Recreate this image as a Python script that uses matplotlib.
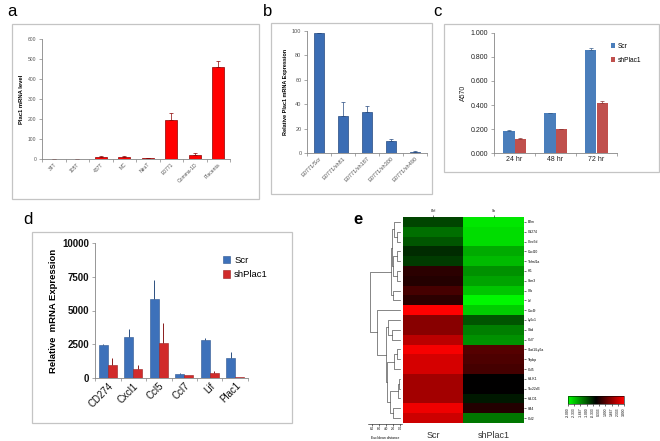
import numpy as np
import matplotlib
matplotlib.use('Agg')
import matplotlib.pyplot as plt
from matplotlib.patches import Rectangle
from matplotlib.colors import LinearSegmentedColormap

plt.rcParams['font.family'] = ['Liberation Sans', 'DejaVu Sans']

# ---- data ----
# panel a
a_cats = ['34T', '105T', '437T', 'MC', 'NeuT', 'E0771', 'Comma-1D', 'Placenta']
a_vals = [0, 1, 12, 12, 5, 195, 18, 462]
a_err = [0, 1, 5, 2, 2, 33, 14, 28]

# panel b
b_cats = ['E0771/Scr', 'E0771/sh81', 'E0771/sh187', 'E0771/sh300', 'E0771/sh490']
b_vals = [98, 30.5, 33.5, 10, 1]
b_err = [0.5, 11.5, 5, 1.5, 0.3]

# panel c
c_cats = ['24 hr', '48 hr', '72 hr']
c_scr = [0.185, 0.330, 0.862]
c_sh = [0.118, 0.200, 0.415]
c_scr_err = [0.005, 0.002, 0.010]
c_sh_err = [0.010, 0.003, 0.020]

# panel d
d_cats = ['CD274', 'Cxcl1', 'Ccl5', 'Ccl7', 'Lif', 'Plac1']
d_scr = [2450, 3050, 5850, 300, 2850, 1500]
d_sh = [1000, 700, 2600, 200, 350, 60]
d_scr_err = [100, 550, 1400, 100, 100, 400]
d_sh_err = [500, 250, 1500, 50, 200, 10]

# panel e
e_genes = ['B2m', 'Cd274', 'Clec5d', 'Cxcl10', 'Tnfrsf1a', 'Irf1', 'Ifitm3', 'Cfb', 'Lif',
           'Cxcl9', 'Ly6c1', 'Ubd', 'Ccl7', 'Stat1/Ly6a', 'Tapbp', 'Ccl5', 'H2-K1',
           'Tsc22d3', 'H2-D1', 'Ifi44', 'Ccl2']
e_scr = [-0.8, -1.3, -1.0, -0.5, -0.7, 0.5, 0.4, 0.8, 0.5, 3.0, 1.6, 1.6, 2.2,
         2.9, 2.5, 2.5, 1.9, 1.9, 1.9, 2.8, 2.4]
e_sh = [-2.7, -2.6, -2.6, -2.0, -2.2, -1.7, -1.9, -2.3, -2.9, -2.4, -1.0, -1.5, -1.7,
        1.0, 0.9, 0.8, 0.0, 0.0, -0.3, 0.4, -1.4]
# dendrogram merges: (left, right, height); leaves 0..20, new nodes from 21
e_merges = [
    (1, 2, 0.9),      # 21
    (0, 21, 1.7),     # 22
    (3, 4, 0.9),      # 23
    (5, 6, 1.0),      # 24
    (23, 24, 1.9),    # 25
    (22, 25, 2.3),    # 26
    (7, 8, 2.1),      # 27
    (26, 27, 2.6),    # 28
    (11, 12, 2.3),    # 29
    (10, 29, 3.4),    # 30
    (13, 14, 0.9),    # 31
    (31, 15, 1.7),    # 32
    (16, 17, 0.4),    # 33
    (33, 18, 0.7),    # 34
    (19, 20, 2.0),    # 35
    (34, 35, 2.9),    # 36
    (32, 36, 3.6),    # 37
    (30, 37, 3.9),    # 38
    (9, 38, 6.6),     # 39
    (28, 39, 8.7),    # 40
]
cbar_ticks = [-3.0, -2.333, -1.667, -1.0, -0.333, 0.333, 1.0, 1.667, 2.333, 3.0]

W, H = 660, 441
fig = plt.figure(figsize=(W / 100, H / 100), dpi=100)


def px_axes(x0, y0, x1, y1):
    return fig.add_axes([x0 / W, 1 - y1 / H, (x1 - x0) / W, (y1 - y0) / H])


def frame(x0, y0, x1, y1):
    fig.add_artist(Rectangle((x0 / W, 1 - y1 / H), (x1 - x0) / W, (y1 - y0) / H,
                             transform=fig.transFigure, fill=False,
                             edgecolor='#c4c4c4', lw=0.9))


def excel_axes(ax, cats, size, color='#555555', rot=45, weight='normal'):
    n = len(cats)
    for s in ['top', 'right']:
        ax.spines[s].set_visible(False)
    for s in ['left', 'bottom']:
        ax.spines[s].set_color('#868686')
        ax.spines[s].set_linewidth(0.6)
    ax.set_xlim(-0.5, n - 0.5)
    ax.set_xticks(np.arange(n + 1) - 0.5)
    ax.set_xticklabels([])
    ax.set_xticks(np.arange(n), minor=True)
    ha = 'right' if rot else 'center'
    ax.set_xticklabels(cats, minor=True, rotation=rot, ha=ha, rotation_mode='anchor' if rot else 'default',
                       fontsize=size, color=color, weight=weight)
    ax.tick_params(axis='x', which='minor', length=0, pad=2)
    ax.tick_params(axis='x', which='major', length=2, width=0.5, color='#868686')
    ax.tick_params(axis='y', length=2, width=0.5, color='#868686', labelsize=size,
                   labelcolor=color, pad=2)
    for t in ax.get_yticklabels():
        t.set_weight(weight)


# ---- panel a ----
frame(12, 24, 259, 199)
fig.text(7 / W, 1 - 12 / H, 'a', fontsize=12, va='center', ha='left')
ax = px_axes(42, 39, 230, 159)
x = np.arange(len(a_cats))
ax.bar(x, a_vals, width=0.52, color='#ff0000', edgecolor='#8b0000', linewidth=0.5)
ax.errorbar(x, a_vals, yerr=[np.zeros(len(a_err)), a_err], fmt='none', ecolor='#8b0000',
            elinewidth=0.5, capsize=1.5, capthick=0.5)
ax.set_ylim(0, 600)
ax.set_yticks(range(0, 601, 100))
excel_axes(ax, a_cats, 3.6)
ax.set_ylabel('Plac1 mRNA level', fontsize=4.2, weight='bold', labelpad=3)

# ---- panel b ----
frame(271, 23, 432, 194)
fig.text(263 / W, 1 - 12 / H, 'b', fontsize=12, va='center', ha='left')
ax = px_axes(307, 31, 427, 153)
x = np.arange(len(b_cats))
ax.bar(x, b_vals, width=0.4, color='#3b6db4', edgecolor='#254a80', linewidth=0.5)
ax.errorbar(x, b_vals, yerr=[np.zeros(len(b_err)), b_err], fmt='none', ecolor='#254a80',
            elinewidth=0.5, capsize=1.5, capthick=0.5)
ax.set_ylim(0, 100)
ax.set_yticks(range(0, 101, 20))
excel_axes(ax, b_cats, 4.0)
ax.set_ylabel('Relative Plac1 mRNA Expression', fontsize=4.0, weight='bold', labelpad=3)

# ---- panel c ----
frame(444, 24, 659, 172)
fig.text(433 / W, 1 - 12 / H, 'c', fontsize=12, va='center', ha='left')
ax = px_axes(494, 33, 617, 153)
x = np.arange(len(c_cats))
w = 0.29
ax.bar(x - w / 2, c_scr, width=w, color='#4a7ebb', label='Scr')
ax.bar(x + w / 2, c_sh, width=w, color='#c0504d', label='shPlac1')
ax.errorbar(x - w / 2, c_scr, yerr=[np.zeros(3), c_scr_err], fmt='none', ecolor='#385d8a',
            elinewidth=0.5, capsize=1.2, capthick=0.5)
ax.errorbar(x + w / 2, c_sh, yerr=[np.zeros(3), c_sh_err], fmt='none', ecolor='#8c3836',
            elinewidth=0.5, capsize=1.2, capthick=0.5)
ax.set_ylim(0, 1.0)
ax.set_yticks(np.arange(0, 1.01, 0.2))
ax.set_yticklabels(['%.3f' % v for v in np.arange(0, 1.01, 0.2)])
excel_axes(ax, c_cats, 5.0, color='#222222', rot=0)
ax.set_ylabel('A570', fontsize=5.0, labelpad=3, color='#222222')
ax.legend(loc='upper left', bbox_to_anchor=(0.9, 0.97), frameon=False, fontsize=4.8,
          handlelength=0.7, handleheight=0.7, handletextpad=0.4, labelspacing=1.1)

# ---- panel d ----
frame(32, 232, 292, 423)
fig.text(23 / W, 1 - 219 / H, 'd', fontsize=12, va='center', ha='left')
ax = px_axes(95, 243, 248, 378)
x = np.arange(len(d_cats))
w = 0.36
ax.bar(x - w / 2, d_scr, width=w, color='#3d71ba', edgecolor='#2c5590', linewidth=0.4, label='Scr')
ax.bar(x + w / 2, d_sh, width=w, color='#d12b2b', edgecolor='#9a1f1f', linewidth=0.4, label='shPlac1')
ax.errorbar(x - w / 2, d_scr, yerr=[np.zeros(6), d_scr_err], fmt='none', ecolor='#2c4f80',
            elinewidth=0.7, capsize=0)
ax.errorbar(x + w / 2, d_sh, yerr=[np.zeros(6), d_sh_err], fmt='none', ecolor='#8a1c1c',
            elinewidth=0.7, capsize=0)
ax.set_ylim(0, 10000)
ax.set_yticks([0, 2500, 5000, 7500, 10000])
excel_axes(ax, d_cats, 7.0, color='#111111', weight='bold')
for t in ax.get_xticklabels(minor=True):
    t.set_weight('normal')
ax.set_ylabel('Relative  mRNA Expression', fontsize=6.8, weight='bold', labelpad=3)
ax.legend(loc='upper left', bbox_to_anchor=(0.78, 0.97), frameon=False, fontsize=6.8,
          handlelength=0.8, handleheight=0.8, handletextpad=0.4, labelspacing=0.6)

# ---- panel e ----
fig.text(353 / W, 1 - 219 / H, 'e', fontsize=12, va='center', ha='left', weight='bold')
cmap = LinearSegmentedColormap.from_list('gkr', ['#00ff00', '#000000', '#ff0000'])
hm = np.column_stack([e_scr, e_sh])
n = len(e_genes)
ax = px_axes(403, 217, 524, 423)
im = ax.imshow(hm, cmap=cmap, vmin=-3, vmax=3, aspect='auto', interpolation='nearest')
ax.set_yticks(np.arange(n))
ax.set_yticklabels(e_genes, fontsize=2.4)
ax.yaxis.tick_right()
ax.tick_params(axis='y', length=1.5, width=0.4, pad=1.5)
ax.set_xticks([0, 1])
ax.set_xticklabels(['Ctrl', 'Sh'], fontsize=2.4)
ax.xaxis.tick_top()
ax.tick_params(axis='x', length=1.5, width=0.4, pad=1.5)
for s in ax.spines.values():
    s.set_visible(False)
ax.text(0, n - 0.5 + 1.3, 'Scr', ha='center', va='center', fontsize=6.5, color='#333333')
ax.text(1, n - 0.5 + 1.3, 'shPlac1', ha='center', va='center', fontsize=6.5, color='#333333')

# dendrogram
dax = px_axes(368, 217, 402, 423)
nodes = {}
for i in range(n):
    nodes[i] = (float(i), 0.0)
for k, (l, r, h) in enumerate(e_merges):
    yl, hl = nodes[l]
    yr, hr = nodes[r]
    dax.plot([hl, h, h, hr], [yl, yl, yr, yr], color='#555555', lw=0.5)
    nodes[n + k] = ((yl + yr) / 2, h)
dax.set_xlim((400 - 368) / 3.5, (400 - 402) / 3.5)
dax.set_ylim(n - 0.5, -0.5)
dax.axis('off')

# distance scale
sax = px_axes(368, 423, 402, 424)
sax.set_xlim((400 - 368) / 3.5, (400 - 402) / 3.5)
sax.set_yticks([])
for s in ['top', 'right', 'left']:
    sax.spines[s].set_visible(False)
sax.spines['bottom'].set_linewidth(0.4)
sax.set_xticks([8, 6, 4, 2, 0])
sax.set_xticklabels(['8.0', '6.0', '4.0', '2.0', '0.0'], fontsize=2.2)
sax.tick_params(axis='x', length=1.2, width=0.4, pad=1)
fig.text(385 / W, 1 - 438 / H, 'Euclidean distance', fontsize=2.4, ha='center', va='center')

# colorbar
cax = px_axes(568, 396, 624, 404)
cb = fig.colorbar(im, cax=cax, orientation='horizontal')
cb.set_ticks(cbar_ticks)
cb.set_ticklabels(['%.3f' % v for v in cbar_ticks])
cax.tick_params(labelsize=2.4, length=1.2, width=0.4, pad=1, labelrotation=90)
cb.outline.set_linewidth(0.4)

fig.savefig('out.png', dpi=100)
